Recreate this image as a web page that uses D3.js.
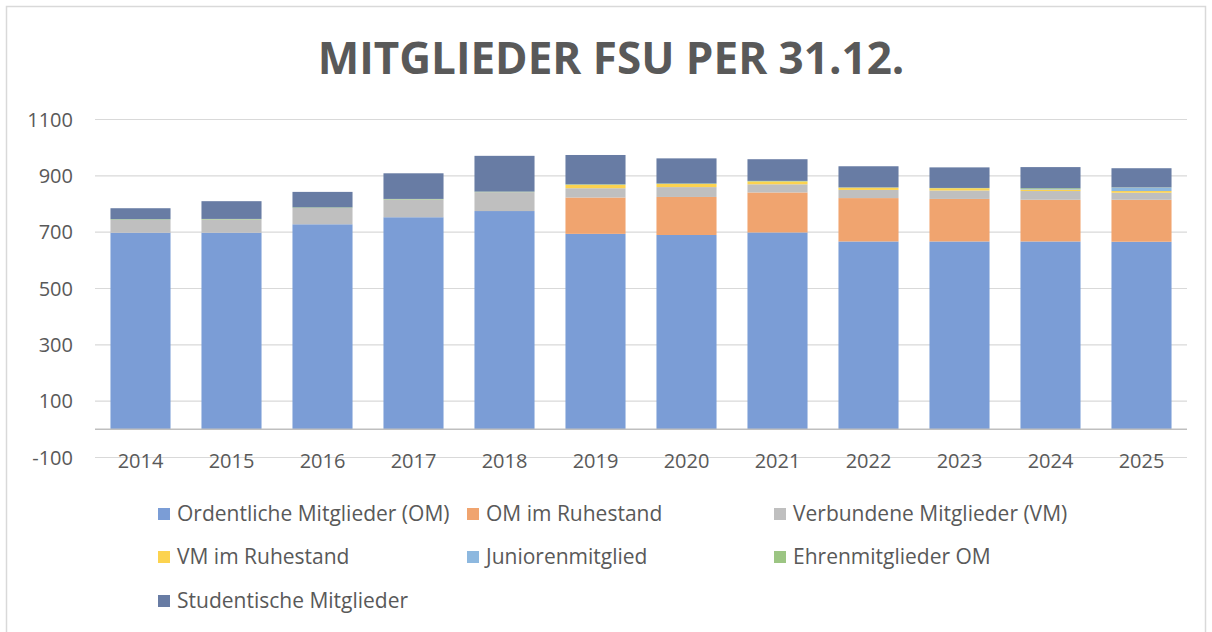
<!DOCTYPE html>
<html>
<head>
<meta charset="utf-8">
<script src="https://cdn.jsdelivr.net/npm/d3@7"></script>
<style>
  html, body { margin: 0; padding: 0; background: #fff; }
  svg text { font-family: "Open Sans", "Noto Sans", sans-serif; }
</style>
</head>
<body>
<div id="chart"></div>
<script>
// ── Data ──
const years      = ['2014','2015','2016','2017','2018','2019','2020','2021','2022','2023','2024','2025'];
const ordentlich = [698, 698, 728, 753, 775, 694, 690, 699, 667, 667, 667, 666];
const omRuhe     = [0, 0, 0, 0, 0, 129, 135, 142, 154, 151, 148, 149];
const verbunden  = [46, 47, 58, 63, 67, 33, 35, 29, 29, 30, 31, 25];
const vmRuhe     = [0, 0, 0, 0, 0, 12, 11, 10, 8, 8, 5, 6];
const junioren   = [0, 0, 0, 0, 0, 0, 0, 0, 0, 0, 2, 12];
const ehren      = [2, 2, 2, 2, 2, 2, 2, 2, 1, 1, 3, 1];
const studenten  = [39, 63, 55, 91, 127, 104, 89, 77, 75, 73, 75, 68];
const yTicks     = [-100, 100, 300, 500, 700, 900, 1100];

const series = [
  { key: 'om',   label: 'Ordentliche Mitglieder (OM)', values: ordentlich, color: '#7b9dd6' },
  { key: 'omr',  label: 'OM im Ruhestand',             values: omRuhe,     color: '#f0a46f' },
  { key: 'vm',   label: 'Verbundene Mitglieder (VM)',  values: verbunden,  color: '#bfbfbf' },
  { key: 'vmr',  label: 'VM im Ruhestand',             values: vmRuhe,     color: '#fcd34f' },
  { key: 'jun',  label: 'Juniorenmitglied',            values: junioren,   color: '#8db8df' },
  { key: 'ehr',  label: 'Ehrenmitglieder OM',          values: ehren,      color: '#9cc583' },
  { key: 'stu',  label: 'Studentische Mitglieder',     values: studenten,  color: '#687ca4' }
];

const table = years.map((yr, i) => {
  const row = { year: yr };
  series.forEach(s => { row[s.key] = s.values[i]; });
  return row;
});

// ── Setup ──
const W = 1212, H = 632;
const svg = d3.select('#chart').append('svg')
  .attr('width', W).attr('height', H);

// frame
svg.append('rect')
  .attr('x', 6.5).attr('y', 6.5)
  .attr('width', 1199).attr('height', 640)
  .attr('fill', 'none').attr('stroke', '#d9d9d9').attr('stroke-width', 1.5);

// title
svg.append('text')
  .attr('x', 611).attr('y', 74)
  .attr('text-anchor', 'middle')
  .attr('fill', '#595959')
  .style('font-size', '44px').style('font-weight', 'bold')
  .text('MITGLIEDER FSU PER 31.12.');

const x = d3.scaleBand().domain(years).range([95, 1187])
  .paddingInner(0.34).paddingOuter(0.17);
const y = d3.scaleLinear().domain([-100, 1100]).range([457.5, 119.5]);

// Grid
svg.append('g')
  .selectAll('line').data(yTicks).enter().append('line')
  .attr('x1', 95).attr('x2', 1187)
  .attr('y1', d => y(d)).attr('y2', d => y(d))
  .attr('stroke', '#d9d9d9').attr('stroke-width', 1.2);

// Y labels
svg.append('g')
  .selectAll('text').data(yTicks).enter().append('text')
  .attr('x', 73).attr('y', d => y(d) + 7)
  .attr('text-anchor', 'end')
  .attr('fill', '#595959').style('font-size', '20px')
  .text(d => d);

// Stacked bars
const stack = d3.stack().keys(series.map(s => s.key));
const layers = stack(table);

svg.append('g').selectAll('g')
  .data(layers).enter().append('g')
  .attr('fill', (d, i) => series[i].color)
  .selectAll('rect')
  .data(d => d).enter().append('rect')
  .attr('x', d => x(d.data.year))
  .attr('width', x.bandwidth())
  .attr('y', d => y(d[1]))
  .attr('height', d => y(d[0]) - y(d[1]));

// zero axis line
svg.append('line')
  .attr('x1', 95).attr('x2', 1187)
  .attr('y1', y(0)).attr('y2', y(0))
  .attr('stroke', '#bfbfbf').attr('stroke-width', 1.5);

// X labels
svg.append('g')
  .selectAll('text').data(years).enter().append('text')
  .attr('x', d => x(d) + x.bandwidth() / 2)
  .attr('y', 468)
  .attr('text-anchor', 'middle')
  .attr('fill', '#595959').style('font-size', '20px')
  .text(d => d);

// Legend
const legCols = [158, 467, 774];
const legRows = [514, 557, 601];
const legend = svg.append('g');
series.forEach((s, i) => {
  const lx = legCols[i % 3], ly = legRows[Math.floor(i / 3)];
  legend.append('rect')
    .attr('x', lx).attr('y', ly - 6)
    .attr('width', 12).attr('height', 12)
    .attr('fill', s.color);
  legend.append('text')
    .attr('x', lx + 19).attr('y', ly + 7)
    .attr('fill', '#595959').style('font-size', '21px')
    .text(s.label);
});
</script>
</body>
</html>
